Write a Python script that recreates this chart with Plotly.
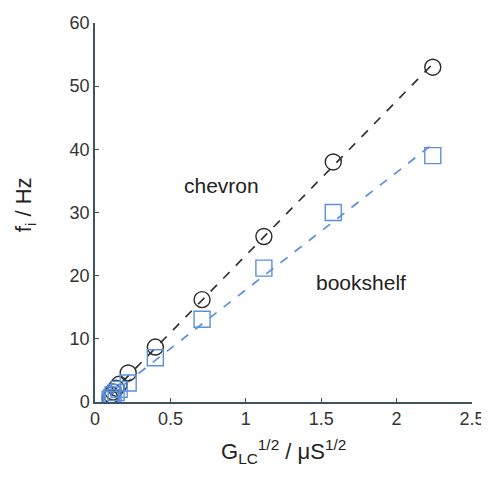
import numpy as np
import plotly.graph_objects as go

x_vals = [2.24, 1.58, 1.12, 0.71, 0.40, 0.22, 0.16, 0.14, 0.12, 0.11, 0.10]
chevron = [53.0, 38.0, 26.2, 16.2, 8.7, 4.6, 2.8, 2.2, 1.6, 1.1, 0.6]
bookshelf = [39.0, 30.0, 21.2, 13.1, 7.0, 3.0, 2.0, 1.5, 1.1, 0.7, 0.4]
x_ticks = [0, 0.5, 1, 1.5, 2, 2.5]
x_tick_text = ["0", "0.5", "1", "1.5", "2", "2.5"]
y_ticks = [0, 10, 20, 30, 40, 50, 60]

xa = np.array(x_vals)
xs = np.array([xa.min(), xa.max()])
pc = np.polyfit(xa, chevron, 1)
pb = np.polyfit(xa, bookshelf, 1)

black = "#2b2b2b"
blue = "#5b8fe0"

fig = go.Figure()
fig.add_trace(go.Scatter(x=xs, y=np.polyval(pc, xs), mode="lines",
                         line=dict(color="#333333", width=1.7, dash="dash"), showlegend=False))
fig.add_trace(go.Scatter(x=xs, y=np.polyval(pb, xs), mode="lines",
                         line=dict(color=blue, width=1.7, dash="dash"), showlegend=False))
fig.add_trace(go.Scatter(x=x_vals, y=chevron, mode="markers",
                         marker=dict(symbol="circle-open", size=16, color=black, line=dict(width=1.4)),
                         showlegend=False))
fig.add_trace(go.Scatter(x=x_vals, y=bookshelf, mode="markers",
                         marker=dict(symbol="square-open", size=16, color=blue, line=dict(width=1.4)),
                         showlegend=False))

fig.add_annotation(x=0.84, y=34.3, text="chevron", showarrow=False,
                   font=dict(size=21, color="#222222"))
fig.add_annotation(x=1.765, y=18.9, text="bookshelf", showarrow=False,
                   font=dict(size=21, color="#222222"))

# axis titles
fig.add_annotation(xref="paper", yref="paper", x=0.5, y=-0.13, yanchor="middle",
                   text="G<sub>LC</sub><sup>1/2</sup> / μS<sup>1/2</sup>", showarrow=False,
                   font=dict(size=22, color="#222222"))
fig.add_annotation(xref="paper", yref="paper", x=-0.185, y=0.52, xanchor="center", yanchor="middle",
                   text="f<sub>i</sub> / Hz", showarrow=False, textangle=-90,
                   font=dict(size=22, color="#222222"))

axis_color = "#3d5563"
fig.update_layout(
    width=481, height=471,
    margin=dict(l=87, r=17, t=15, b=77),
    plot_bgcolor="white", paper_bgcolor="white",
    font=dict(family="Liberation Sans, Arial, sans-serif", size=18, color="#333333"),
    xaxis=dict(range=[0, 2.5], tickvals=x_ticks, ticktext=x_tick_text, automargin=False,
               showgrid=False, zeroline=False, showline=True, linecolor=axis_color, linewidth=1.5,
               ticks="inside", ticklen=4, tickcolor=axis_color),
    yaxis=dict(range=[0, 60], tickvals=y_ticks, automargin=False,
               showgrid=False, zeroline=False, showline=True, linecolor=axis_color, linewidth=1.5,
               ticks="inside", ticklen=4, tickcolor=axis_color),
)

fig.write_html("out.html")
